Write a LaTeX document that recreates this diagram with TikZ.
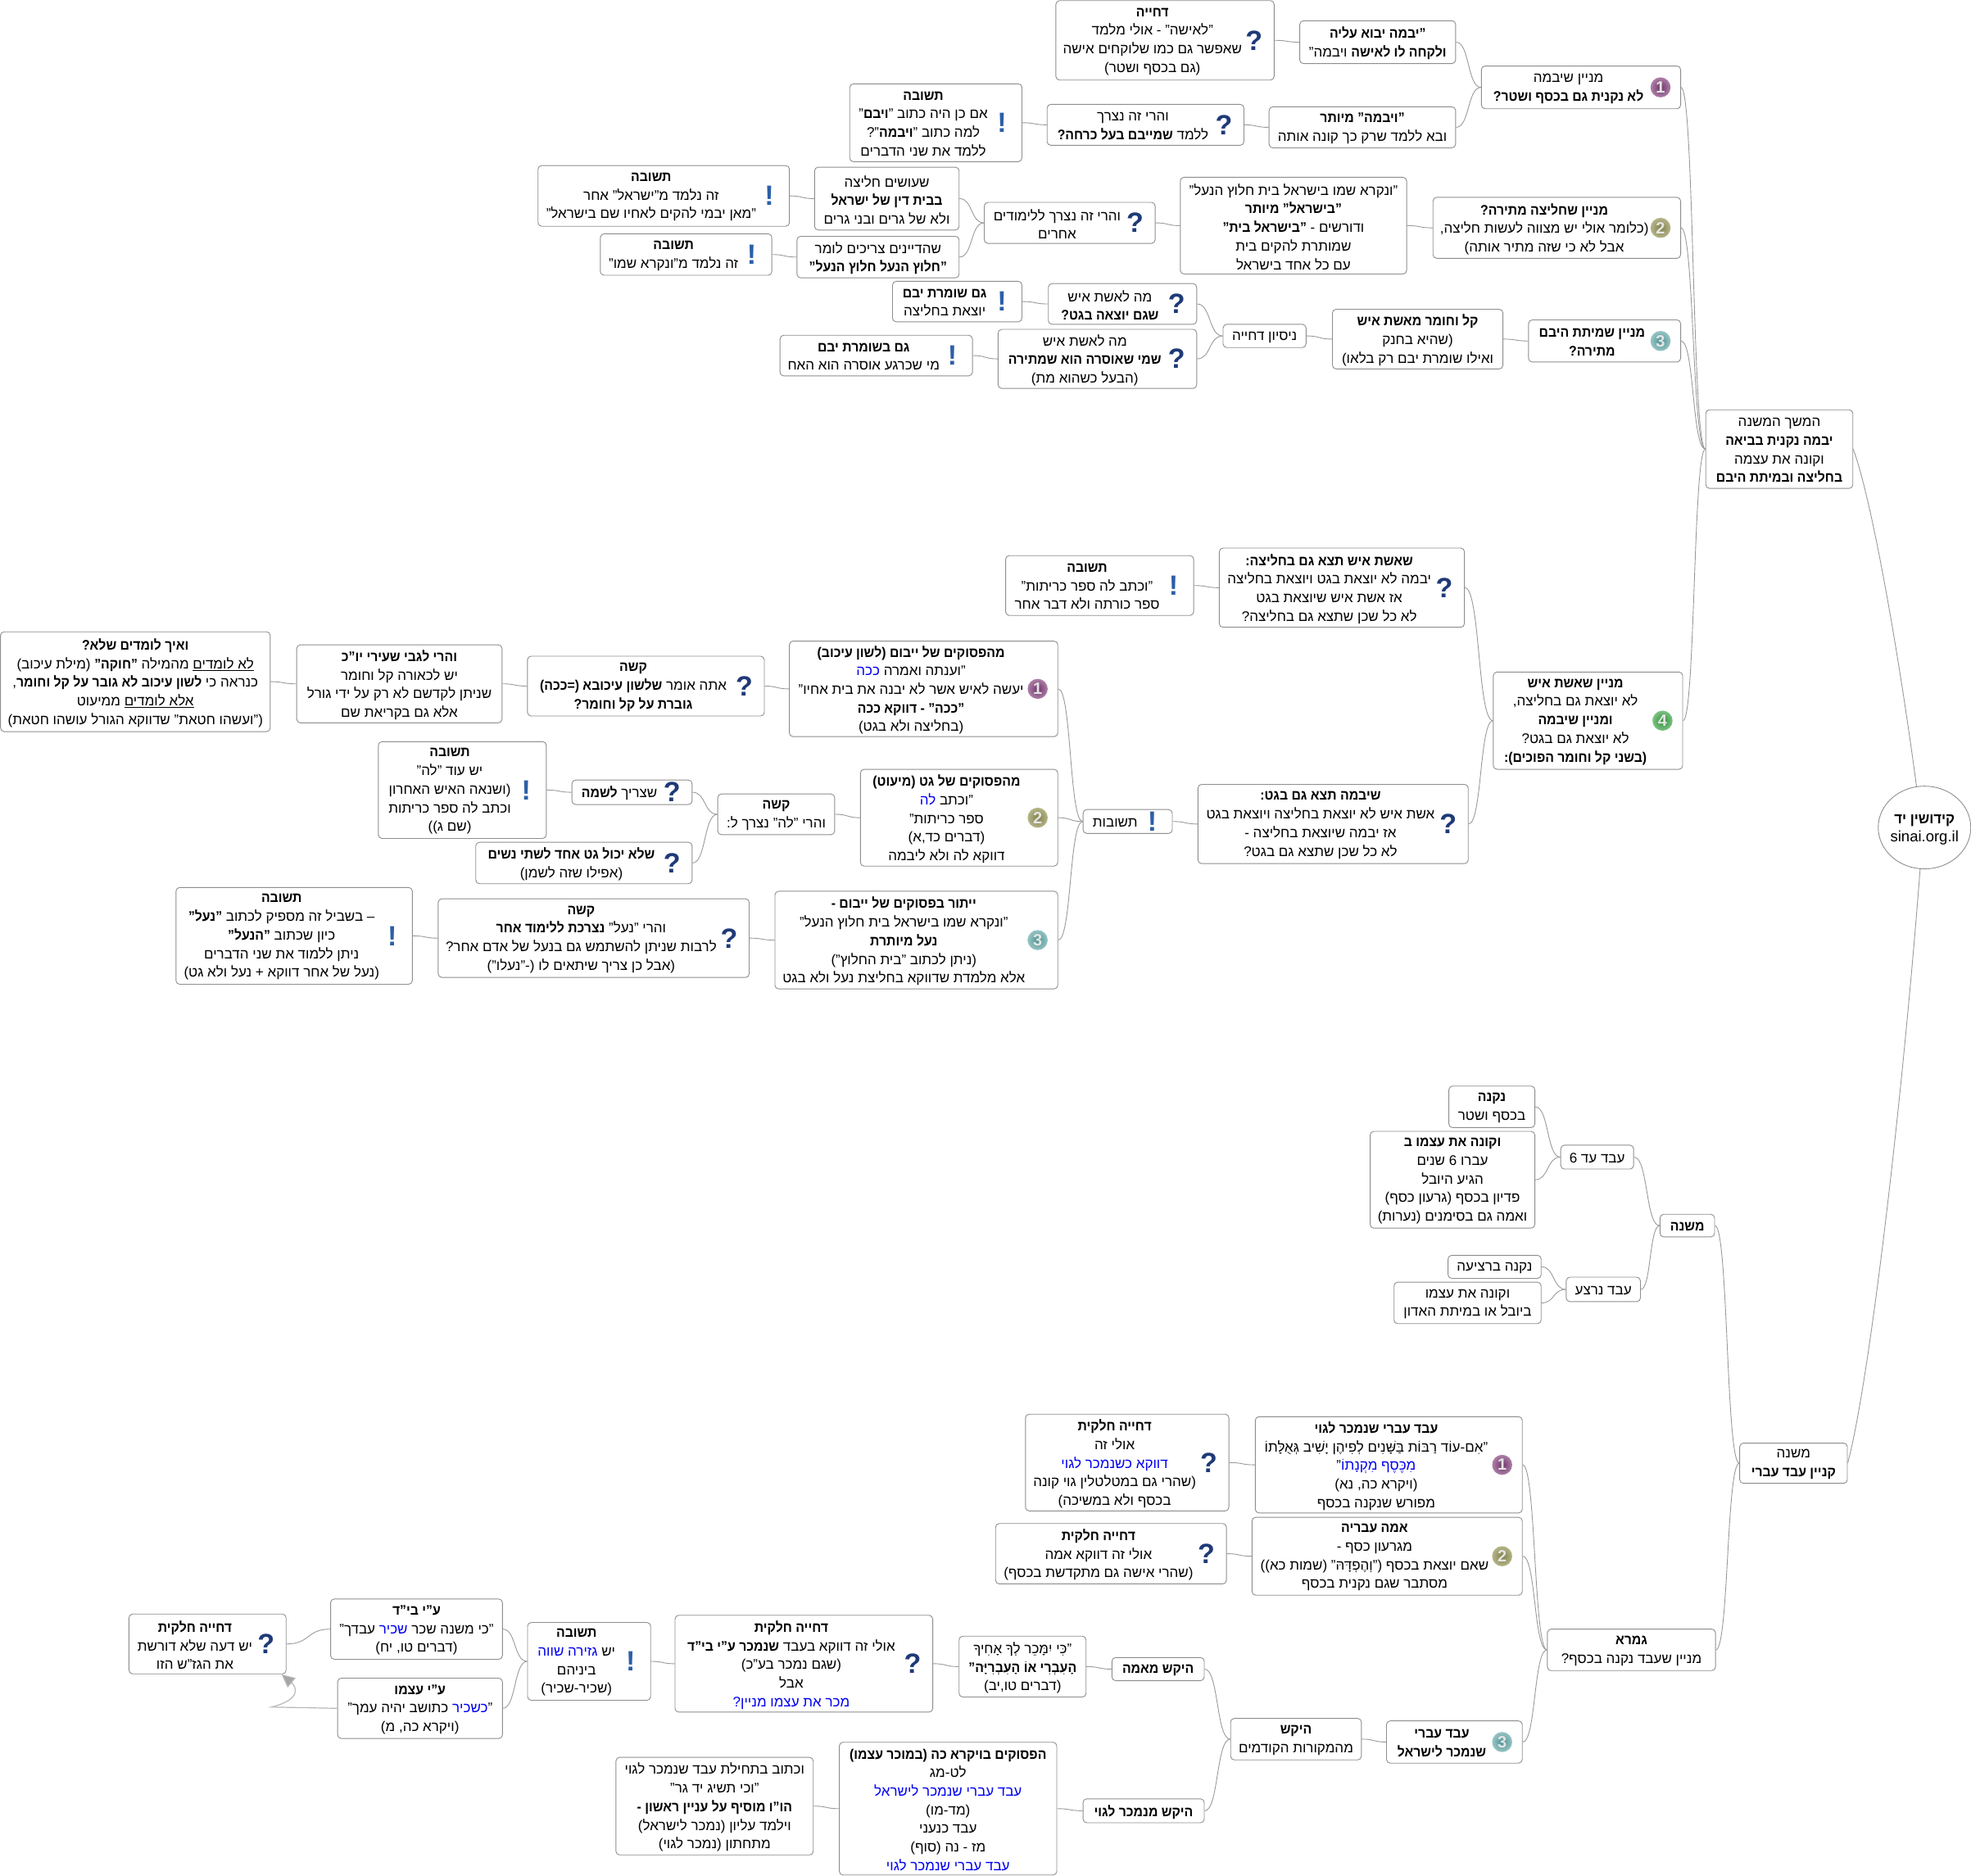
\documentclass[tikz,border=0pt]{standalone}
\usepackage{fontspec}
\usetikzlibrary{calc,shapes.geometric,arrows.meta}
\setmainfont[Script=Hebrew,BoldFeatures={FakeStretch=0.93}]{Liberation Sans}
\newfontfamily\iconfont{Liberation Sans}
\TeXXeTstate=1
\definecolor{edgec}{HTML}{8E8E8E}
\definecolor{linec}{HTML}{9A9A9A}
\definecolor{qc}{HTML}{1F3A78}
\definecolor{ec}{HTML}{2C5FA8}
\newcommand\rl[1]{\beginR #1\endR}
\newcommand\bd[1]{\textbf{#1}}
% inside a right-to-left run the list is output in reverse, so pop comes first
\newcommand\bl[1]{\special{color pop}#1\special{color push rgb 0 0 0.94}}
\newcommand\und[1]{\underline{\beginR #1\endR}}
\tikzset{
  x=1.53444pt,y=-1.53444pt,
  box/.style={draw=edgec,line width=0.9pt,rounded corners=4.5pt,fill=white,inner sep=0pt},
  txt/.style={inner sep=0pt,align=center,font=\fontsize{17}{22.7}\selectfont,text=black},
  conn/.style={draw=linec,line width=0.9pt},
  qmark/.style={inner sep=0pt,text=qc,font=\iconfont\bfseries\fontsize{34}{34}\selectfont},
  emark/.style={inner sep=0pt,text=ec,font=\iconfont\bfseries\fontsize{34}{34}\selectfont},
  ballmark/.style 2 args={circle,inner sep=0pt,minimum size=24.5pt,inner color=#1,outer color=#2,text=white!90!black,font=\iconfont\bfseries\fontsize{20}{20}\selectfont},
}
\definecolor{b1i}{HTML}{6E3468}\definecolor{b1o}{HTML}{AD7FA8}
\definecolor{b2i}{HTML}{7F7F4A}\definecolor{b2o}{HTML}{B5B588}
\definecolor{b3i}{HTML}{4F9494}\definecolor{b3o}{HTML}{98C4C4}
\definecolor{b4i}{HTML}{2F8F38}\definecolor{b4o}{HTML}{7CC282}
\newcommand\iconq[3]{\node[qmark] (#1-i) at (#2,#3) {?};}
\newcommand\icone[3]{\node[emark] (#1-i) at (#2,#3) {!};}
\newcommand\iconA[3]{\node[ballmark={b1i}{b1o}] (#1-i) at (#2,#3) {1};}
\newcommand\iconB[3]{\node[ballmark={b2i}{b2o}] (#1-i) at (#2,#3) {2};}
\newcommand\iconC[3]{\node[ballmark={b3i}{b3o}] (#1-i) at (#2,#3) {3};}
\newcommand\iconD[3]{\node[ballmark={b4i}{b4o}] (#1-i) at (#2,#3) {4};}
% name x1 y1 x2 y2 icon(q,e,A,B,C,D,n) text
\newcommand\bx[7]{%
  \pgfmathsetmacro\cx{(#2+#4)/2}%
  \pgfmathsetmacro\cy{(#3+#5)/2}%
  \pgfmathsetmacro\ty{\cy+1}%
  \pgfmathsetmacro\bw{(#4-#2)*1.53444}%
  \pgfmathsetmacro\bh{(#5-#3)*1.53444}%
  \node[box,minimum width=\bw pt,minimum height=\bh pt] (#1) at (\cx,\cy) {};%
  \if#6n\relax
    \node[txt] (#1-t) at (\cx,\ty) {#7};%
  \else
    \pgfmathsetmacro\tx{\cx-10}%
    \pgfmathsetmacro\ix{#4-16}%
    \node[txt] (#1-t) at (\tx,\ty) {#7};%
    \csname icon#6\endcsname{#1}{\ix}{\cy}%
  \fi
}
\newcommand\cn[2]{\draw[conn] (#1.east) .. controls ($(#1.east)!.55!(#1.east-|#2.west)$) and ($(#2.west)!.55!(#2.west-|#1.east)$) .. (#2.west);}
\begin{document}
\begin{tikzpicture}
\useasboundingbox[fill=white] (0,0) rectangle (1568,1492.4);
% root
\node[ellipse,draw=edgec,line width=0.9pt,fill=white,inner sep=0pt,minimum width=113pt,minimum height=101pt] (root) at (1531,658.3) {};
\node[inner sep=0pt,align=center,font=\fontsize{18}{22.4}\selectfont] (root-t) at (1531,660) {\rl{\bd{קידושין יד}}\\{\iconfont\fontsize{18.5}{22.4}\selectfont sinai.org.il}};
% top branch
\bx{A1}{1357}{326}{1474}{388.5}{n}{\rl{המשך המשנה}\\\rl{\bd{יבמה נקנית בביאה}}\\\rl{וקונה את עצמה}\\\rl{\bd{בחליצה ובמיתת היבם}}}
\bx{B1}{1178.5}{52.5}{1337}{86.5}{A}{\rl{מניין שיבמה}\\\rl{\bd{לא נקנית גם בכסף ושטר?}}}
\bx{C1}{1034}{16.5}{1158}{50.6}{n}{\rl{\bd{"יבמה יבוא עליה}}\\\rl{\bd{ולקחה לו לאישה} ויבמה"}}
\bx{D1}{840}{0.5}{1013.6}{63.7}{q}{\rl{\bd{דחייה}}\\\rl{"לאישה" - אולי מלמד}\\\rl{שאפשר גם כמו שלוקחים אישה}\\\rl{(גם בכסף ושטר)}}
\bx{C2}{1009.6}{85}{1158}{117.6}{n}{\rl{\bd{"ויבמה" מיותר}}\\\rl{ובא ללמד שרק כך קונה אותה}}
\bx{D2}{833}{83}{989.6}{115.6}{q}{\rl{והרי זה נצרך}\\\rl{ללמד \bd{שמייבם בעל כרחה?}}}
\bx{E2}{676}{66.7}{813}{128.6}{e}{\rl{\bd{תשובה}}\\\rl{אם כן היה כתוב "\bd{ויבם}"}\\\rl{למה כתוב "\bd{ויבמה}"?}\\\rl{ללמד את שני הדברים}}
\bx{B2}{1140}{157}{1337}{205.5}{B}{\rl{\bd{מניין שחליצה מתירה?}}\\\rl{(כלומר אולי יש מצווה לעשות חליצה,}\\\rl{אבל לא כי שזה מתיר אותה)}}
\bx{C3}{939}{141}{1119}{218}{n}{\rl{"ונקרא שמו בישראל בית חלוץ הנעל"}\\\rl{\bd{"בישראל" מיותר}}\\\rl{ודורשים - \bd{"בישראל בית"}}\\\rl{שמותרת להקים בית}\\\rl{עם כל אחד בישראל}}
\bx{D3}{783}{161}{919}{193.6}{q}{\rl{והרי זה נצרך ללימודים}\\\rl{אחרים}}
\bx{E3}{648}{133}{763}{183}{n}{\rl{שעושים חליצה}\\\rl{\bd{בבית דין של ישראל}}\\\rl{ולא של גרים ובני גרים}}
\bx{F3}{428}{131.7}{628}{180}{e}{\rl{\bd{תשובה}}\\\rl{זה נלמד מ"ישראל" אחר}\\\rl{"מאן יבמי להקים לאחיו שם בישראל"}}
\bx{E4}{634}{188}{763}{221}{n}{\rl{שהדיינים צריכים לומר}\\\rl{\bd{"חלוץ הנעל חלוץ הנעל"}}}
\bx{F4}{477.6}{186}{614}{219}{e}{\rl{\bd{תשובה}}\\\rl{זה נלמד מ"ונקרא שמו"}}
\bx{B3}{1216}{254.5}{1337}{288}{C}{\rl{\bd{מניין שמיתת היבם}}\\\rl{\bd{מתירה?}}}
\bx{C4}{1060}{246}{1195.6}{293.5}{n}{\rl{\bd{קל וחומר מאשת איש}}\\\rl{(שהיא בחנק}\\\rl{ואילו שומרת יבם רק בלאו)}}
\bx{D4}{973}{258}{1039}{276.5}{n}{\rl{ניסיון דחייה}}
\bx{E5}{834}{225.6}{952}{258}{q}{\rl{מה לאשת איש}\\\rl{\bd{שגם  יוצאה בגט?}}}
\bx{F5}{710}{223.8}{813}{256}{e}{\rl{\bd{גם שומרת יבם}}\\\rl{יוצאת בחליצה}}
\bx{E6}{794}{262}{952}{309}{q}{\rl{מה לאשת איש}\\\rl{\bd{שמי שאוסרה הוא שמתירה}}\\\rl{(הבעל כשהוא מת)}}
\bx{F6}{620.5}{266.7}{773.6}{299}{e}{\rl{\bd{גם בשומרת יבם}}\\\rl{מי שכרגע אוסרה הוא האח}}
\bx{B4}{1188}{534.6}{1338.6}{612}{D}{\rl{\bd{מניין שאשת איש}}\\\rl{לא יוצאת גם בחליצה,}\\\rl{\bd{ומניין שיבמה}}\\\rl{לא יוצאת גם בגט?}\\\rl{\bd{(בשני קל וחומר הפוכים):}}}
\bx{C5}{970}{436}{1165}{499}{q}{\rl{\bd{שאשת איש תצא גם בחליצה:}}\\\rl{יבמה לא יוצאת בגט ויוצאת בחליצה}\\\rl{אז אשת איש שיוצאת בגט}\\\rl{לא כל שכן שתצא גם בחליצה?}}
\bx{D5}{800}{442}{949.6}{489.6}{e}{\rl{\bd{תשובה}}\\\rl{"וכתב לה ספר כריתות"}\\\rl{ספר כורתה ולא דבר אחר}}
\bx{C6}{953}{624}{1168}{687}{q}{\rl{\bd{שיבמה תצא גם בגט:}}\\\rl{אשת איש לא יוצאת בחליצה ויוצאת בגט}\\\rl{אז יבמה שיוצאת בחליצה -}\\\rl{לא כל שכן שתצא גם בגט?}}
\bx{D6}{861.6}{644}{932.6}{663}{e}{\rl{תשובות}}
\bx{E7}{628}{510}{841.5}{586}{A}{\rl{\bd{מהפסוקים של ייבום (לשון עיכוב)}}\\\rl{"וענתה ואמרה \bl{ככה}}\\\rl{יעשה לאיש אשר לא יבנה את בית אחיו"}\\\rl{\bd{"ככה" - דווקא ככה}}\\\rl{(בחליצה ולא בגט)}}
\bx{E8}{684.5}{612}{841.5}{689}{B}{\rl{\bd{מהפסוקים של גט (מיעוט)}}\\\rl{"וכתב \bl{לה}}\\\rl{ספר כריתות"}\\\rl{(דברים כד,א)}\\\rl{דווקא לה ולא ליבמה}}
\bx{E9}{616.5}{709}{841.5}{786.7}{C}{\rl{\bd{ייתור בפסוקים של ייבום -}}\\\rl{"ונקרא שמו בישראל בית חלוץ הנעל"}\\\rl{\bd{נעל מיותרת}}\\\rl{(ניתן לכתוב "בית החלוץ")}\\\rl{אלא מלמדת שדווקא בחליצת נעל ולא בגט}}
\bx{F7}{419.6}{522}{608}{569.6}{q}{\rl{\bd{קשה}}\\\rl{אתה אומר \bd{שלשון עיכובא  (=ככה)}}\\\rl{\bd{גוברת על קל וחומר?}}}
\bx{G7}{236}{513}{399.4}{575}{n}{\rl{\bd{והרי לגבי שעירי יו"כ}}\\\rl{יש לכאורה קל וחומר}\\\rl{שניתן לקדשם לא רק על ידי גורל}\\\rl{אלא גם בקריאת שם}}
\bx{H7}{0.4}{502.6}{215}{582}{n}{\rl{\bd{ואיך לומדים שלא?}}\\\rl{\und{לא לומדים} מהמילה \bd{"חוקה"} (מילת עיכוב)}\\\rl{כנראה כי \bd{לשון עיכוב לא גובר על קל וחומר},}\\\rl{\und{אלא לומדים} ממיעוט}\\\rl{("ועשהו חטאת" שדווקא הגורל עושהו חטאת)}}
\bx{F8}{571}{631.6}{664}{664}{n}{\rl{\bd{קשה}}\\\rl{והרי "לה" נצרך ל:}}
\bx{G8}{455}{620.5}{550.6}{640}{q}{\rl{שצריך \bd{לשמה}}}
\bx{H8}{301}{590}{434.6}{667}{e}{\rl{\bd{תשובה}}\\\rl{יש עוד "לה"}\\\rl{(ושנאה האיש האחרון}\\\rl{וכתב לה ספר כריתות}\\\rl{(שם ג))}}
\bx{G9}{378.5}{670}{550.6}{703}{q}{\rl{\bd{שלא יכול גט אחד לשתי נשים}}\\\rl{(אפילו שזה לשמן)}}
\bx{F9}{348.6}{715}{596}{777.6}{q}{\rl{\bd{קשה}}\\\rl{והרי "נעל" \bd{נצרכת ללימוד אחר}}\\\rl{לרבות שניתן להשתמש גם בנעל של אדם אחר?}\\\rl{(אבל כן צריך שיתאים לו (-"נעלו")}}
\bx{G10}{140}{706}{328}{783}{e}{\rl{\bd{תשובה}}\\\rl{– בשביל זה מספיק לכתוב \bd{"נעל"}}\\\rl{כיון שכתוב \bd{"הנעל"}}\\\rl{ניתן ללמוד את שני הדברים}\\\rl{(נעל של אחר דווקא + נעל ולא גט)}}
% bottom branch
\bx{A2}{1384}{1148}{1469.6}{1180}{n}{\rl{משנה}\\\rl{\bd{קניין עבד עברי}}}
\bx{B5}{1320.6}{966}{1364}{984}{n}{\rl{\bd{משנה}}}
\bx{C7}{1241.6}{911}{1299.6}{930}{n}{\rl{עבד עד 6}}
\bx{D7}{1152.6}{864}{1221}{897}{n}{\rl{\bd{נקנה}}\\\rl{בכסף ושטר}}
\bx{D8}{1090}{900}{1221}{977}{n}{\rl{\bd{וקונה את עצמו ב}}\\\rl{עברו 6 שנים}\\\rl{הגיע היובל}\\\rl{פדיון בכסף (גרעון כסף)}\\\rl{ואמה גם בסימנים (נערות)}}
\bx{C8}{1246}{1016}{1305}{1035.5}{n}{\rl{עבד נרצע}}
\bx{D9}{1152}{998.6}{1226}{1017}{n}{\rl{נקנה ברציעה}}
\bx{D10}{1109}{1020}{1226}{1053}{n}{\rl{וקונה את עצמו}\\\rl{ביובל או במיתת האדון}}
\bx{B6}{1231}{1296}{1364.7}{1329}{n}{\rl{\bd{גמרא}}\\\rl{מניין שעבד נקנה  בכסף?}}
\bx{C9}{998.6}{1127}{1211}{1203.6}{A}{\rl{\bd{עבד עברי שנמכר לגוי}}\\\rl{"אִם-עוֹד רַבּוֹת בַּשָּׁנִים לְפִיהֶן יָשִׁיב גְּאֻלָּתוֹ}\\\rl{\bl{מִכֶּסֶף מִקְנָתוֹ}"}\\\rl{(ויקרא כה, נא)}\\\rl{מפורש שנקנה בכסף}}
\bx{D11}{815.8}{1125}{977.6}{1202}{q}{\rl{\bd{דחייה חלקית}}\\\rl{אולי זה}\\\rl{\bl{דווקא כשנמכר לגוי}}\\\rl{(שהרי גם במטלטלין גוי קונה}\\\rl{בכסף ולא במשיכה)}}
\bx{C10}{996}{1207}{1211}{1269}{B}{\rl{\bd{אמה עבריה}}\\\rl{מגרעון כסף -}\\\rl{שאם יוצאת בכסף ("וְהֶפְדָּהּ" (שמות כא))}\\\rl{מסתבר שגם נקנית בכסף}}
\bx{D12}{792}{1212}{975.7}{1260}{q}{\rl{\bd{דחייה חלקית}}\\\rl{אולי זה דווקא אמה}\\\rl{(שהרי אישה גם מתקדשת בכסף)}}
\bx{C11}{1103}{1369}{1211}{1402.6}{C}{\rl{\bd{עבד עברי}}\\\rl{\bd{שנמכר לישראל}}}
\bx{D13}{979}{1367}{1083}{1400}{n}{\rl{\bd{היקש}}\\\rl{מהמקורות הקודמים}}
\bx{E10}{884.6}{1318.6}{958}{1337}{n}{\rl{\bd{היקש מאמה}}}
\bx{E11}{861.6}{1431}{958}{1450}{n}{\rl{\bd{היקש מנמכר לגוי}}}
\bx{F10}{763}{1301.6}{864}{1350}{n}{\rl{"כִּי יִמָּכֵר לְךָ אָחִיךָ}\\\rl{\bd{הָעִבְרִי אוֹ הָעִבְרִיָּה"}}\\\rl{(דברים טו,יב)}}
\bx{G11}{537}{1285}{742}{1362}{q}{\rl{\bd{דחייה חלקית}}\\\rl{אולי זה דווקא בעבד \bd{שנמכר ע"י בי"ד}}\\\rl{(שגם נמכר בע"כ)}\\\rl{אבל}\\\rl{\bl{מכר את עצמו מניין?}}}
\bx{H11}{419.7}{1290.7}{517.6}{1352.6}{e}{\rl{\bd{תשובה}}\\\rl{יש \bl{גזירה שווה}}\\\rl{ביניהם}\\\rl{(שכיר-שכיר)}}
\bx{I11}{263}{1272}{399.7}{1320}{n}{\rl{\bd{ע"י בי"ד}}\\\rl{"כי משנה שכר \bl{שכיר} עבדך"}\\\rl{(דברים טו, יח)}}
\bx{I12}{268.6}{1335}{399.7}{1383}{n}{\rl{\bd{ע"י עצמו}}\\\rl{"\bl{כשכיר} כתושב יהיה עמך"}\\\rl{(ויקרא כה, מ)}}
\bx{J11}{102.6}{1284}{227.6}{1331.6}{q}{\rl{\bd{דחייה חלקית}}\\\rl{יש דעה שלא דורשת}\\\rl{את הגז"ש הזו}}
\bx{F11}{667.7}{1386}{840.7}{1491.6}{n}{\rl{\bd{הפסוקים בויקרא כה (במוכר עצמו)}}\\\rl{לט-מג}\\\rl{\bl{עבד עברי שנמכר לישראל}}\\\rl{(מד-מו)}\\\rl{עבד כנעני}\\\rl{מז - נה (סוף)}\\\rl{\bl{עבד עברי שנמכר לגוי}}}
\bx{G12}{490}{1398}{647}{1475.6}{n}{\rl{וכתוב בתחילת עבד שנמכר לגוי}\\\rl{"וכי תשיג יד גר"}\\\rl{\bd{הו"ו מוסיף על עניין ראשון -}}\\\rl{וילמד עליון (נמכר לישראל)}\\\rl{מתחתון (נמכר לגוי)}}
% connectors
\cn{D1}{C1}\cn{C1}{B1}\cn{E2}{D2}\cn{D2}{C2}\cn{C2}{B1}\cn{B1}{A1}
\cn{F3}{E3}\cn{F4}{E4}\cn{E3}{D3}\cn{E4}{D3}\cn{D3}{C3}\cn{C3}{B2}\cn{B2}{A1}
\cn{F5}{E5}\cn{F6}{E6}\cn{E5}{D4}\cn{E6}{D4}\cn{D4}{C4}\cn{C4}{B3}\cn{B3}{A1}
\cn{B4}{A1}\cn{C5}{B4}\cn{C6}{B4}\cn{D5}{C5}\cn{D6}{C6}
\cn{E7}{D6}\cn{E8}{D6}\cn{E9}{D6}\cn{F7}{E7}\cn{G7}{F7}\cn{H7}{G7}
\cn{F8}{E8}\cn{G8}{F8}\cn{G9}{F8}\cn{H8}{G8}\cn{F9}{E9}\cn{G10}{F9}
\cn{B5}{A2}\cn{B6}{A2}\cn{C7}{B5}\cn{C8}{B5}\cn{D7}{C7}\cn{D8}{C7}\cn{D9}{C8}\cn{D10}{C8}
\cn{C9}{B6}\cn{C10}{B6}\cn{C11}{B6}\cn{D11}{C9}\cn{D12}{C10}\cn{D13}{C11}
\cn{E10}{D13}\cn{E11}{D13}\cn{F10}{E10}\cn{G11}{F10}\cn{H11}{G11}\cn{I11}{H11}\cn{I12}{H11}\cn{J11}{I11}
\cn{F11}{E11}\cn{G12}{F11}
\draw[conn] (A1.east) .. controls (1490,400) and (1512,530) .. (root.101);
\draw[conn] (A2.east) .. controls (1487,1100) and (1513,880) .. (root.-96);
% loop arrow
\coordinate (kink) at (216,1358);
\coordinate (jend) at (224,1332);
\draw[draw=black!28,line width=1.2pt,-{Triangle[length=16pt,width=15pt,fill=black!35]}] (I12.west) -- (kink) .. controls (240,1352) and (236,1342) .. (jend);
\end{tikzpicture}
\end{document}
